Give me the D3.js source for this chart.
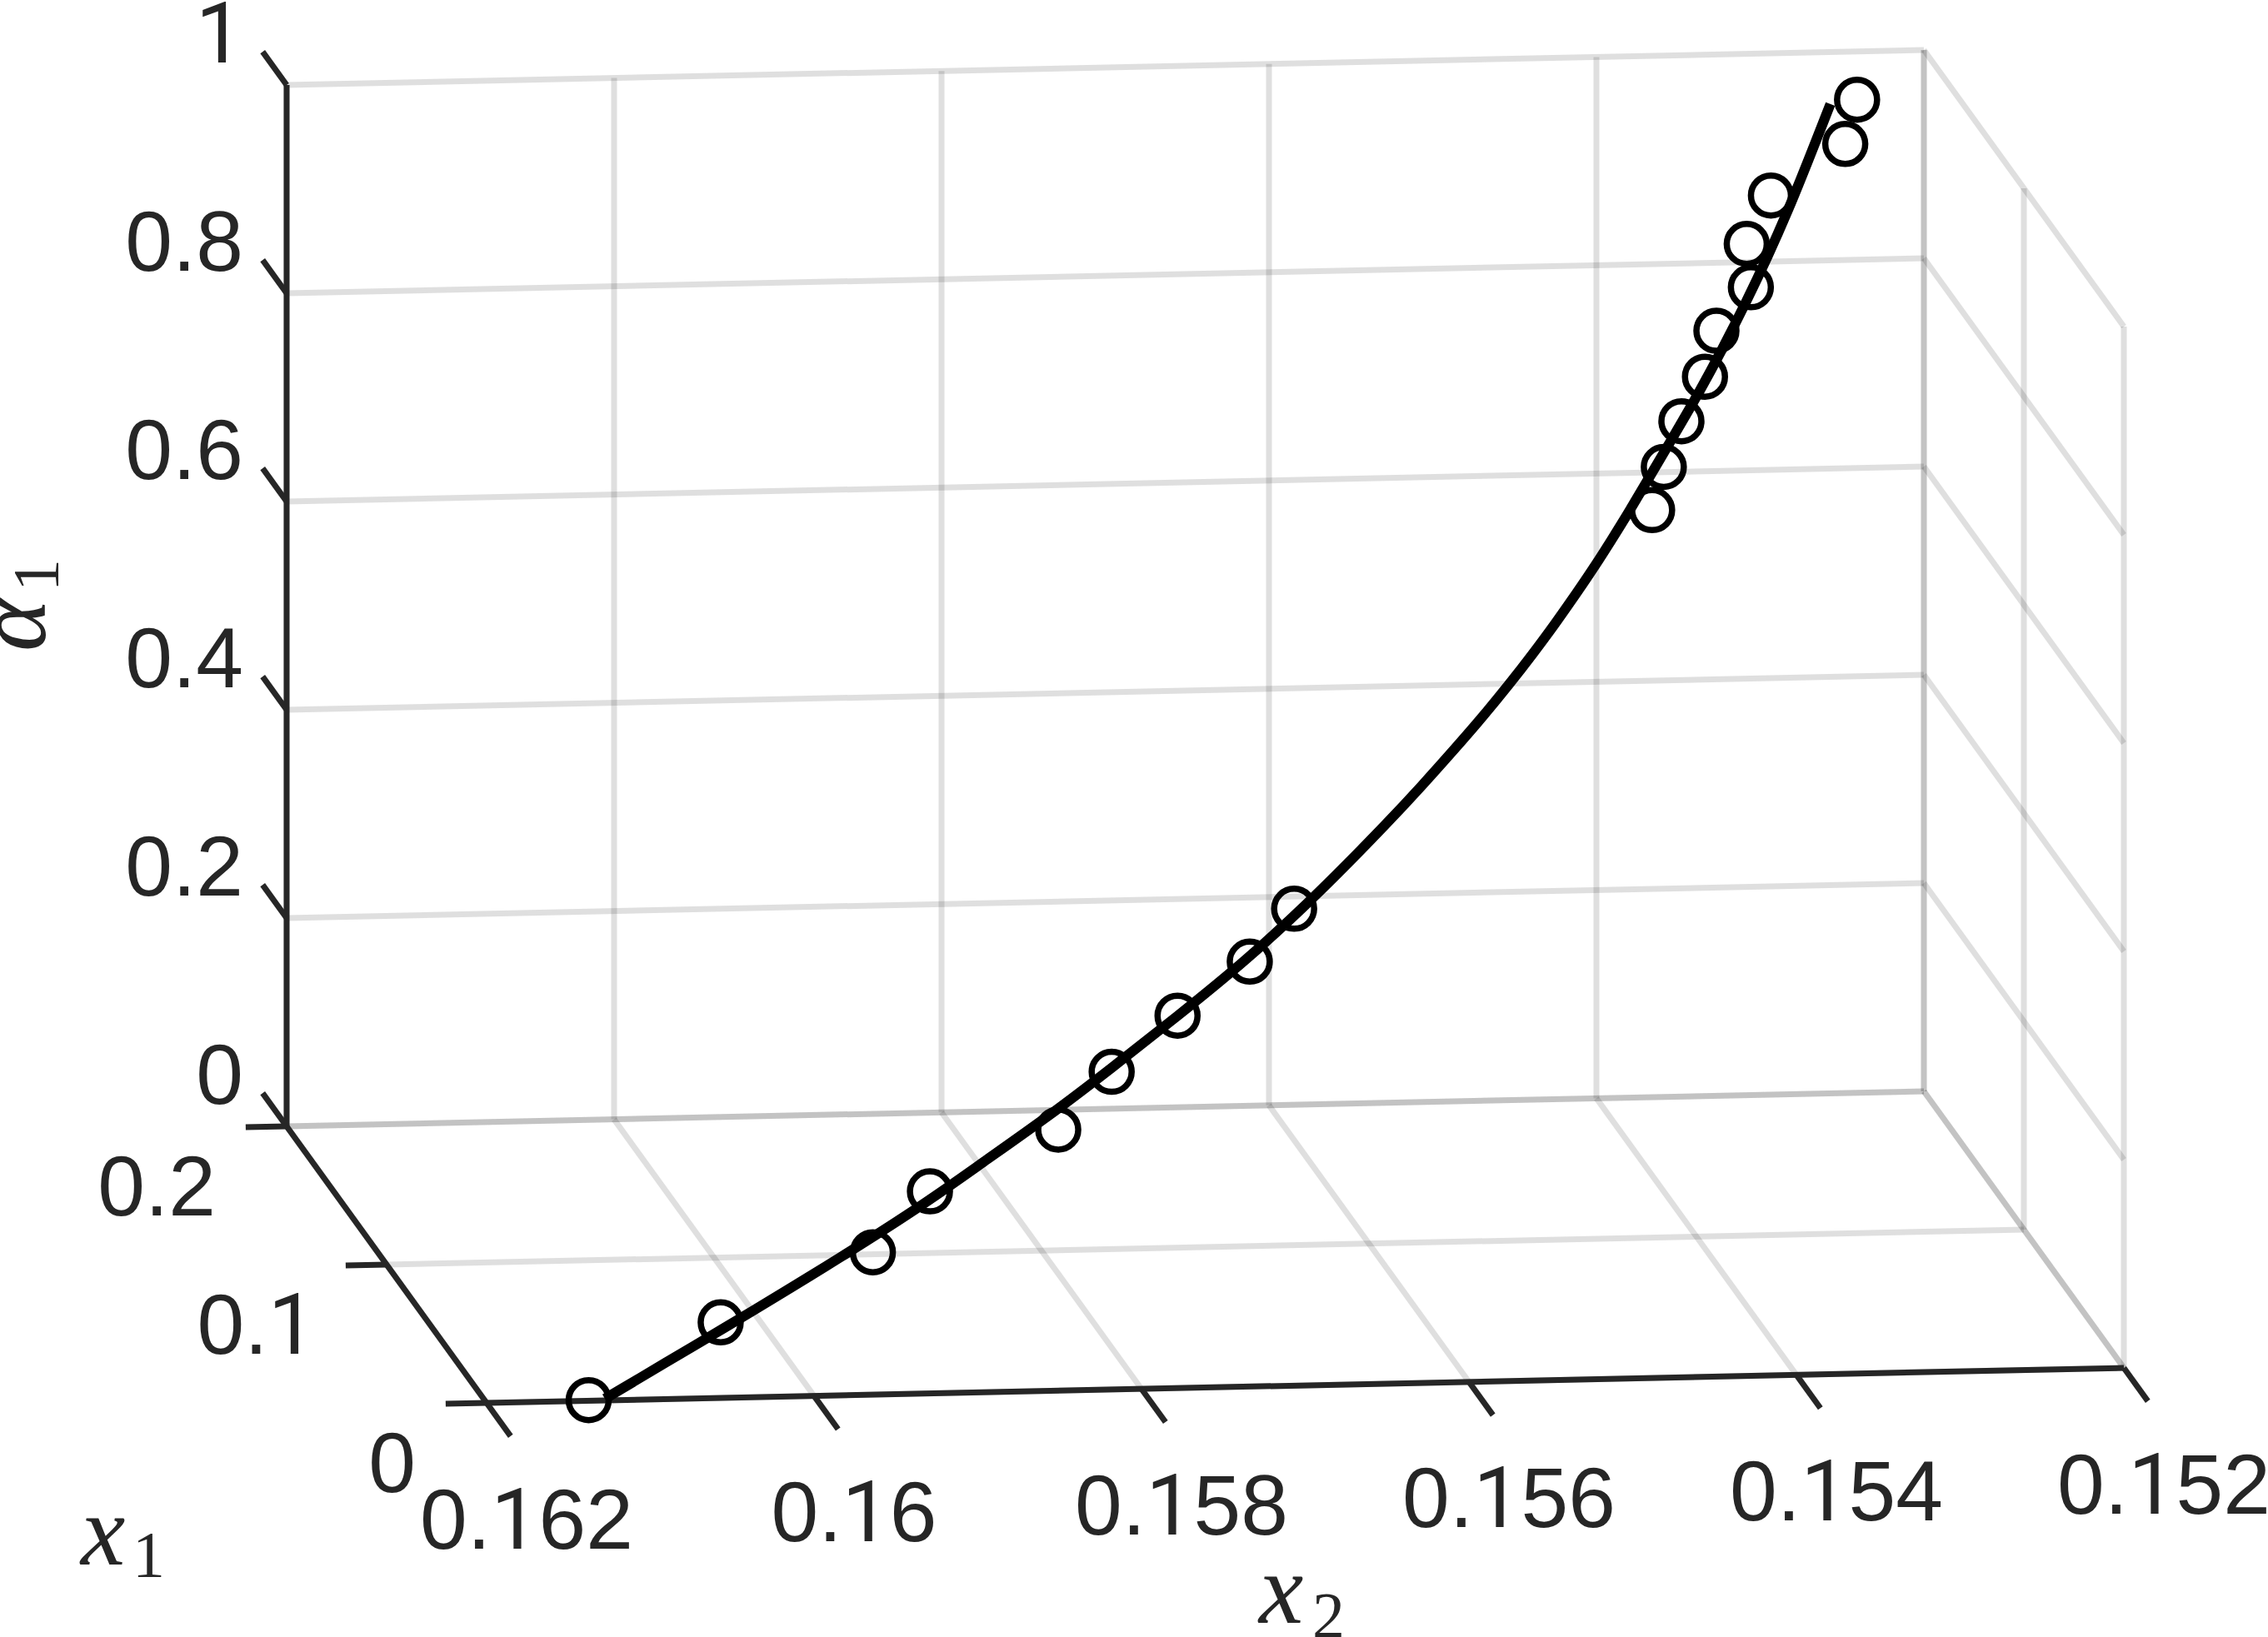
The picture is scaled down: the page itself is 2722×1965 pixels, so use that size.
<!DOCTYPE html>
<html>
<head>
<meta charset="utf-8">
<script src="https://cdn.jsdelivr.net/npm/d3@7"></script>
<style>
html,body{margin:0;padding:0;background:#fff;overflow:hidden}
svg{display:block}
</style>
</head>
<body>
<div id="chart"></div>
<script>
// ---- tick values and labels ----
const x1Ticks = [0, 0.1, 0.2];
const x1TickLabels = ["0", "0.1", "0.2"];
const x2Ticks = [0.162, 0.16, 0.158, 0.156, 0.154, 0.152];
const x2TickLabels = ["0.162", "0.16", "0.158", "0.156", "0.154", "0.152"];
const alphaTicks = [0, 0.2, 0.4, 0.6, 0.8, 1];
const alphaTickLabels = ["0", "0.2", "0.4", "0.6", "0.8", "1"];

// ---- model curve ----
const curveX1 = [0.0002,0.0076,0.0104,0.0179,0.0246,0.0293,0.0356,0.0412,0.0477,0.0548,0.0626,0.0668,0.0717,0.0767,0.0814,0.0854,0.0895,0.0933,0.0971,0.1010,0.1043,0.1078,0.1112,0.1155,0.1206,0.1265,0.1318,0.1381,0.1432,0.1508,0.1630];
const curveX2 = [0.161276,0.160615,0.160364,0.159707,0.159158,0.158803,0.158328,0.157937,0.157490,0.157019,0.156564,0.156335,0.156071,0.155817,0.155585,0.155392,0.155205,0.155039,0.154878,0.154722,0.154595,0.154467,0.154345,0.154196,0.154019,0.153818,0.153649,0.153457,0.153309,0.153100,0.152797];
const curveAlpha = [0.0013,0.0468,0.0639,0.1101,0.1507,0.1799,0.2181,0.2525,0.2927,0.3361,0.3842,0.4099,0.4401,0.4703,0.4992,0.5237,0.5488,0.5721,0.5959,0.6199,0.6399,0.6612,0.6819,0.7085,0.7399,0.7759,0.8083,0.8472,0.8784,0.9252,0.9999];

// ---- measured points ----
const pointX1 = [0.0001,0.0097,0.0183,0.0259,0.0335,0.0408,0.0478,0.0545,0.0612,0.1114,0.1169,0.1227,0.1283,0.1342,0.1397,0.1453,0.1514,0.1578,0.1635];
const pointX2 = [0.161376,0.160511,0.159529,0.159134,0.158304,0.157933,0.157488,0.157006,0.156694,0.154201,0.154096,0.153953,0.153775,0.153669,0.153425,0.153416,0.153231,0.152738,0.152631];
const pointAlpha = [0.0004,0.0595,0.1120,0.1591,0.2055,0.2501,0.2932,0.3346,0.3754,0.6832,0.7170,0.7527,0.7874,0.8233,0.8570,0.8912,0.9289,0.9683,1.0028];

const W = 2722, H = 1965;
const INK = "#262626";

// Oblique 3-D projection, built from d3 linear scales
const x1ToX = d3.scaleLinear().domain([0, 0.2]).range([0, -240]);
const x1ToY = d3.scaleLinear().domain([0, 0.2]).range([0, -332]);
const x2ToX = d3.scaleLinear().domain([0.162, 0.152]).range([584, 2549]);
const x2ToY = d3.scaleLinear().domain([0.162, 0.152]).range([1684, 1642]);
const alphaToY = d3.scaleLinear().domain([0, 1]).range([0, -1250]);
const project = (x1, x2, a) => [x1ToX(x1) + x2ToX(x2), x1ToY(x1) + x2ToY(x2) + alphaToY(a)];

const svg = d3.select("#chart").append("svg").attr("width", W).attr("height", H).attr("viewBox", `0 0 ${W} ${H}`);
svg.append("rect").attr("width", W).attr("height", H).attr("fill", "#fff");

const x1Min = 0, x1Max = 0.2, x2Near = 0.162, x2Far = 0.152, aMin = 0, aMax = 1;

// ---- grid ----
const gridSegs = [];
x2Ticks.forEach(v => gridSegs.push([[x1Max, v, aMin], [x1Max, v, aMax]]));      // back wall verticals
alphaTicks.forEach(a => gridSegs.push([[x1Max, x2Near, a], [x1Max, x2Far, a]])); // back wall horizontals
x1Ticks.forEach(v => gridSegs.push([[v, x2Far, aMin], [v, x2Far, aMax]]));      // side wall verticals
alphaTicks.forEach(a => gridSegs.push([[x1Min, x2Far, a], [x1Max, x2Far, a]])); // side wall lines
x2Ticks.forEach(v => gridSegs.push([[x1Min, v, aMin], [x1Max, v, aMin]]));      // floor
x1Ticks.forEach(v => gridSegs.push([[v, x2Near, aMin], [v, x2Far, aMin]]));     // floor

const seg = d3.line();
svg.append("g").selectAll("path").data(gridSegs).join("path")
  .attr("d", s => seg(s.map(p => project(...p))))
  .attr("fill", "none").attr("stroke", INK).attr("stroke-opacity", 0.15).attr("stroke-width", 7);

// ---- axes and ticks ----
const tickX1 = 0.024, tickX2 = 0.00025;
const axisSegs = [
  [[x1Max, x2Near, aMin], [x1Max, x2Near, aMax]],
  [[x1Min, x2Near, aMin], [x1Max, x2Near, aMin]],
  [[x1Min, x2Near, aMin], [x1Min, x2Far, aMin]]
];
alphaTicks.forEach(a => axisSegs.push([[x1Max, x2Near, a], [x1Max + tickX1, x2Near, a]]));
x1Ticks.forEach(v => axisSegs.push([[v, x2Near, aMin], [v, x2Near + tickX2, aMin]]));
x2Ticks.forEach(v => axisSegs.push([[x1Min, v, aMin], [x1Min - tickX1, v, aMin]]));

svg.append("g").selectAll("path").data(axisSegs).join("path")
  .attr("d", s => seg(s.map(p => project(...p))))
  .attr("fill", "none").attr("stroke", INK).attr("stroke-width", 7);

// ---- curve ----
const curveData = curveX1.map((v, i) => project(v, curveX2[i], curveAlpha[i]));
svg.append("path").datum(curveData)
  .attr("d", d3.line().curve(d3.curveBasis))
  .attr("fill", "none").attr("stroke", "#000").attr("stroke-width", 12);

// ---- points ----
svg.append("g").selectAll("circle").data(pointX1.map((v, i) => project(v, pointX2[i], pointAlpha[i]))).join("circle")
  .attr("cx", d => d[0]).attr("cy", d => d[1]).attr("r", 24)
  .attr("fill", "none").attr("stroke", "#000").attr("stroke-width", 7.5);

// ---- tick labels ----
const tickFont = "'Liberation Sans', Arial, sans-serif", tickSize = 102;
function tickText(data, labels, pos, anchor, dx, dy) {
  svg.append("g").selectAll("text").data(data).join("text")
    .attr("x", d => project(...pos(d))[0] + dx)
    .attr("y", d => project(...pos(d))[1] + dy)
    .attr("text-anchor", anchor)
    .attr("font-family", tickFont).attr("font-size", tickSize).attr("fill", INK)
    .each(function (d, i) {
      // the digit 1 has no foot in the reference face, so it takes a footless font
      d3.select(this).selectAll("tspan").data(labels[i].split(/(1)/).filter(Boolean)).join("tspan")
        .attr("font-family", t => t === "1" ? "Roboto, sans-serif" : null)
        .text(t => t);
    });
}
tickText(alphaTicks, alphaTickLabels, a => [x1Max, x2Near, a], "end", -52, -27);
tickText(x1Ticks, x1TickLabels, v => [v, x2Near, aMin], "end", -85, 107);
tickText(x2Ticks, x2TickLabels, v => [x1Min, v, aMin], "middle", 48, 174.5);

// ---- axis titles ----
const mathFont = "'Liberation Serif', 'Times New Roman', serif";
function mathLabel(g, main, sub, subDx, subDy) {
  g.append("text").attr("font-family", mathFont).attr("font-style", "italic").attr("font-size", 120)
    .attr("fill", INK).text(main);
  g.append("text").attr("x", subDx).attr("y", subDy).attr("font-family", mathFont).attr("font-size", 78)
    .attr("fill", INK).text(sub);
}
mathLabel(svg.append("g").attr("transform", "translate(97,1878)"), "x", "1", 62, 14);
mathLabel(svg.append("g").attr("transform", "translate(1511,1948)"), "x", "2", 64, 17);
mathLabel(svg.append("g").attr("transform", "translate(54,782) rotate(-90)"), "α", "1", 72, 15);
</script>
</body>
</html>
